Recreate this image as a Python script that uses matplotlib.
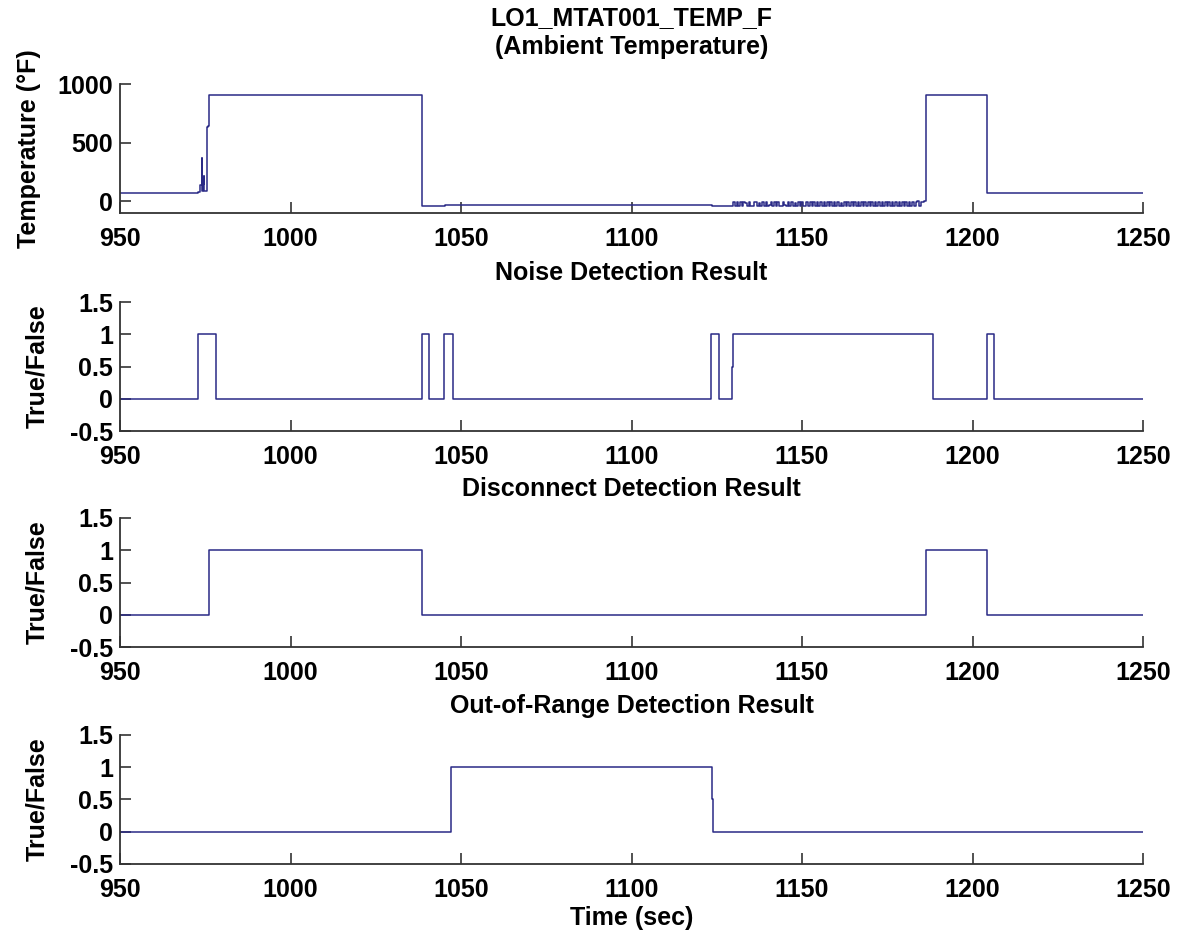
import numpy as np
import matplotlib
matplotlib.use("Agg")
import matplotlib.pyplot as plt

plt.rcParams['font.family'] = ['Liberation Sans', 'DejaVu Sans']
plt.rcParams['font.weight'] = 'bold'
plt.rcParams['axes.titleweight'] = 'bold'
plt.rcParams['axes.labelweight'] = 'bold'

# ---- data ----
temp_t = [950, 973.0, 973.6, 973.9, 974.1, 974.3, 974.5, 974.7, 975.0, 975.4, 975.8, 976.0,
          1038.6, 1045.3, 1123.7, 1129.8]
temp_v = [72, 80, 140, 370, 90, 150, 220, 90, 85, 635, 640, 910,
          -40, -28, -40, -38]

# noisy stretch 1129.8 .. 1186.4, one value per 0.5 s
noise_v = [-5, -38, -3, -36, -8, -38, -2, -10, -37, -4, -35, -38, -6, -2, -36, -9,
           -38, -3, -37, -5, -38, -34, -1, -37, -7, -38, -4, -36, -38, -2, -30, -38,
           -6, -37, -3, -38, -9, -36, -1, -38, -5, -37, -38, -3, -35, -8, -38, -2,
           -37, -6, -38, -4, -36, -1, -38, -7, -37, -3, -38, -5, -36, -2, -38, -9,
           -37, -4, -38, -1, -35, -6, -38, -3, -37, -8, -38, -2, -36, -5, -38, -4,
           -37, -1, -38, -6, -35, -3, -38, -7, -37, -2, -38, -5, -36, -4, -38, -1,
           -37, -8, -38, -3, -36, -6, -38, -2, -37, -5, -38, -4, 0, -38, -2, -1, 2]
noise_t0 = 1129.8
noise_dt = 0.5

temp_tail_t = [1186.4, 1204.1, 1250]
temp_tail_v = [910, 72, 72]

noise_det_t = [950, 973.0, 978.2, 1038.7, 1040.7, 1045.0, 1047.5, 1047.7, 1123.4, 1125.7,
               1129.4, 1129.7, 1188.5, 1204.2, 1206.2, 1250]
noise_det_v = [0, 1, 0, 1, 0, 1, 0.5, 0, 1, 0, 0.5, 1, 0, 1, 0, 0]

disc_t = [950, 976.0, 1038.6, 1186.4, 1204.1, 1250]
disc_v = [0, 1, 0, 1, 0, 0]

oor_t = [950, 1047.0, 1123.6, 1123.8, 1250]
oor_v = [0, 1, 0.5, 0, 0]

xticks = [950, 1000, 1050, 1100, 1150, 1200, 1250]
tf_ticks = [-0.5, 0, 0.5, 1, 1.5]
tf_labels = ['-0.5', '0', '0.5', '1', '1.5']

line_color = '#2a2a86'
fs = 18

# build full temperature series
nt = [noise_t0 + i * noise_dt for i in range(len(noise_v))]
t_all = temp_t + nt + temp_tail_t
v_all = temp_v + noise_v + temp_tail_v

fig = plt.figure(figsize=(11.8, 9.35), dpi=100)
left, width, height = 0.1017, 0.867, 0.138
bottoms = [0.772, 0.539, 0.308, 0.076]
axes = [fig.add_axes([left, b, width, height]) for b in bottoms]


def style(ax):
    for s in ['top', 'right']:
        ax.spines[s].set_visible(False)
    for s in ['left', 'bottom']:
        ax.spines[s].set_linewidth(1.3)
        ax.spines[s].set_color('#333333')
    ax.tick_params(direction='in', length=8, width=1.2, labelsize=fs, color='#333333')
    ax.tick_params(axis='x', pad=10)
    ax.tick_params(axis='y', pad=5)
    ax.set_xlim(950, 1250)
    ax.set_xticks(xticks)
    ax.set_xticklabels([str(x) for x in xticks])


ax = axes[0]
ax.plot(t_all, v_all, drawstyle='steps-post', color=line_color, lw=1.1)
ax.set_ylim(-100, 1000)
ax.set_yticks([0, 500, 1000])
ax.set_yticklabels(['0', '500', '1000'])
ax.set_ylabel('Temperature (°F)', fontsize=fs)
ax.set_title('LO1_MTAT001_TEMP_F\n(Ambient Temperature)', fontsize=fs, pad=22, linespacing=1.25)
style(ax)

titles = ['Noise Detection Result', 'Disconnect Detection Result', 'Out-of-Range Detection Result']
series = [(noise_det_t, noise_det_v), (disc_t, disc_v), (oor_t, oor_v)]
for ax, ttl, (tt, vv) in zip(axes[1:], titles, series):
    ax.plot(tt, vv, drawstyle='steps-post', color=line_color, lw=1.1)
    ax.set_ylim(-0.5, 1.5)
    ax.set_yticks(tf_ticks)
    ax.set_yticklabels(tf_labels)
    ax.set_ylabel('True/False', fontsize=fs)
    ax.set_title(ttl, fontsize=fs, pad=16)
    style(ax)

axes[3].set_xlabel('Time (sec)', fontsize=fs, labelpad=3)
for ax in axes:
    ax.yaxis.set_label_coords(-0.069, 0.5)
axes[0].yaxis.set_label_coords(-0.077, 0.5)

fig.savefig('out.png', dpi=100)
